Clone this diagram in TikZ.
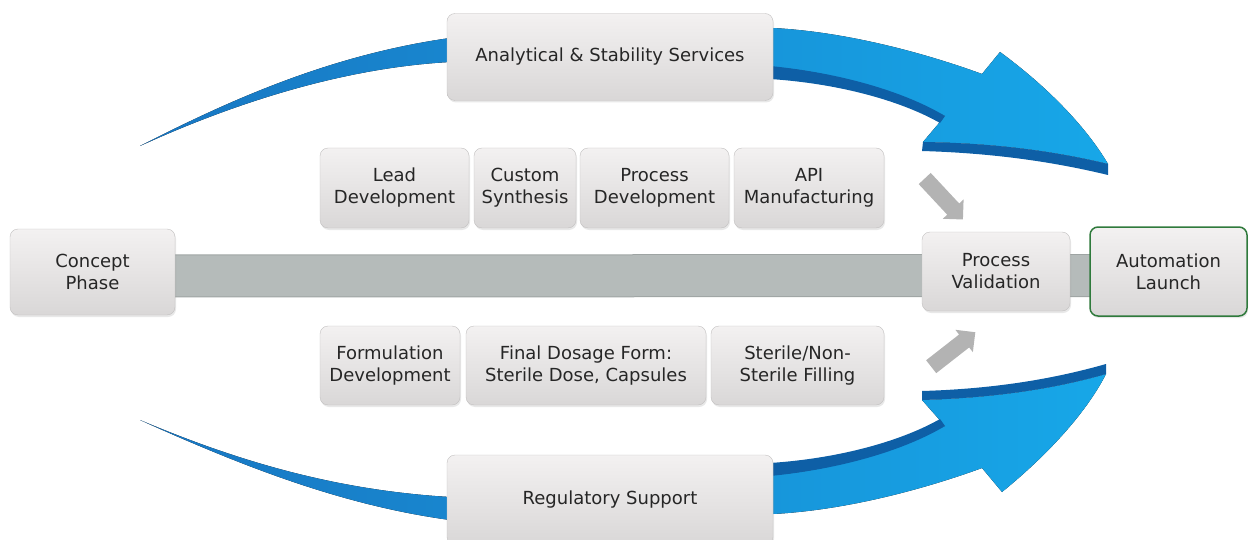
\documentclass[tikz,border=0pt]{standalone}
\usepackage{fontspec}
\setmainfont{DejaVu Sans}
\usepackage{xcolor}
\usetikzlibrary{shapes,arrows,shadows,backgrounds}

\definecolor{boxtop}{HTML}{F3F1F1}
\definecolor{boxbot}{HTML}{D9D7D7}
\definecolor{boxedge}{HTML}{C2C0C0}
\definecolor{boxtext}{HTML}{262626}
\definecolor{barfill}{HTML}{B5BBBA}
\definecolor{baredge}{HTML}{9EA4A3}
\definecolor{launchgreen}{HTML}{2F7A3C}
\definecolor{bluedeep}{HTML}{1876C2}
\definecolor{bluelight}{HTML}{17A7E8}
\definecolor{blueband}{HTML}{0E5FA6}
\definecolor{grayarrow}{HTML}{B3B3B3}

\tikzset{
  phase/.style={draw=boxedge, rounded corners=8pt, top color=boxtop, bottom color=boxbot,
    align=center, inner sep=0pt, text=boxtext, font=\fontsize{18}{22}\selectfont,
    drop shadow={opacity=0.18, shadow xshift=1pt, shadow yshift=-2pt}},
  feed/.style={single arrow, fill=grayarrow, inner xsep=0pt, inner ysep=8pt,
    single arrow head extend=6pt, minimum height=56pt}
}

\begin{document}
\begin{tikzpicture}[x=1pt, y=-1pt]
\useasboundingbox (0,0) rectangle (1249,540);

% service boxes
\node[phase, minimum width=326pt, minimum height=87pt] (analytical) at (610,57) {Analytical \& Stability Services};
\node[phase, minimum width=326pt, minimum height=90pt] (regulatory) at (610,500) {Regulatory Support};

% upper row
\node[phase, minimum width=149pt, minimum height=80pt] (lead) at (394.5,188) {Lead\\Development};
\node[phase, minimum width=102pt, minimum height=80pt] (custom) at (525,188) {Custom\\Synthesis};
\node[phase, minimum width=149pt, minimum height=80pt] (procdev) at (654.5,188) {Process\\Development};
\node[phase, minimum width=150pt, minimum height=80pt] (api) at (809,188) {API\\Manufacturing};

% lower row
\node[phase, minimum width=140pt, minimum height=79pt] (formulation) at (390,365.5) {Formulation\\Development};
\node[phase, minimum width=240pt, minimum height=79pt] (dosage) at (586,365.5) {Final Dosage Form:\\Sterile Dose, Capsules};
\node[phase, minimum width=173pt, minimum height=79pt] (filling) at (797.5,365.5) {Sterile/Non-\\Sterile Filling};

% main line
\node[phase, minimum width=165pt, minimum height=86pt] (concept) at (92.5,272) {Concept\\Phase};
\node[phase, minimum width=148pt, minimum height=79pt] (validation) at (996,271.5) {Process\\Validation};
\node[phase, draw=launchgreen, line width=1.5pt, minimum width=157pt, minimum height=89pt] (launch) at (1168.5,271.5) {Automation\\Launch};

% feeding arrows
\node[feed, rotate=-47] (feedtop) at (941,196) {};
\node[feed, rotate=38] (feedbot) at (950,352) {};

\begin{pgfonlayer}{background}
  % bar
  \draw[baredge, line width=43pt] ([yshift=-4pt]concept.center) -- ([yshift=-4pt]launch.center);
  \draw[barfill, line width=41pt] ([yshift=-4pt]concept.center) -- ([yshift=-4pt]launch.center);

  % top blue arrow
  \fill[left color=bluedeep, right color=bluelight]
    (140,146) .. controls (230,100) and (330,55) .. (450,38)
    -- (773,28) .. controls (850,32) and (930,55) .. (982,74)
    -- (1000,52) .. controls (1045,85) and (1085,125) .. (1108,164)
    .. controls (1050,150) and (990,143) .. (923,142)
    -- (945,116) .. controls (900,95) and (840,72) .. (773,67)
    -- (450,62) .. controls (340,68) and (230,105) .. (140,146) -- cycle;
  \fill[blueband]
    (770,66) .. controls (850,74) and (910,95) .. (945,116)
    -- (940,123) .. controls (905,103) and (845,84) .. (770,79) -- cycle;
  \fill[blueband]
    (923,142) .. controls (990,143) and (1050,150) .. (1108,164)
    -- (1108,175) .. controls (1050,161) and (990,153) .. (922,151) -- cycle;

  % bottom blue arrow
  \fill[left color=bluedeep, right color=bluelight]
    (140,420) .. controls (240,465) and (340,505) .. (450,520)
    -- (773,514) .. controls (850,510) and (930,487) .. (982,468)
    -- (1002,492) .. controls (1045,457) and (1085,415) .. (1106,374)
    .. controls (1050,390) and (990,398) .. (922,400)
    -- (945,426) .. controls (900,447) and (840,470) .. (773,475)
    -- (450,497) .. controls (330,490) and (230,458) .. (140,420) -- cycle;
  \fill[blueband]
    (770,476) .. controls (850,468) and (910,447) .. (945,426)
    -- (940,419) .. controls (905,439) and (845,458) .. (770,463) -- cycle;
  \fill[blueband]
    (922,400) .. controls (990,398) and (1050,390) .. (1106,374)
    -- (1106,364) .. controls (1050,380) and (990,389) .. (922,391) -- cycle;
\end{pgfonlayer}
\end{tikzpicture}
\end{document}
